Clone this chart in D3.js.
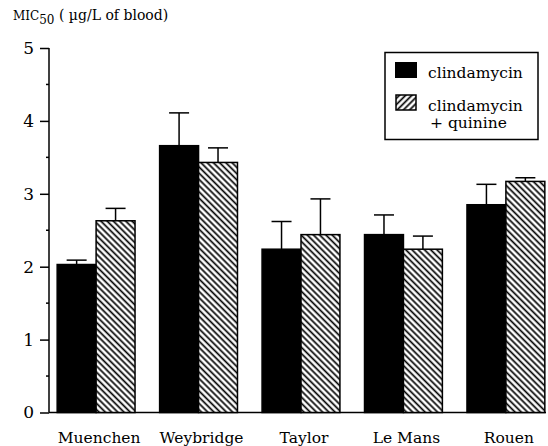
<!DOCTYPE html>
<html>
<head>
<meta charset="utf-8">
<script src="https://cdn.jsdelivr.net/npm/d3@7"></script>
<style>
  body { margin: 0; background: #fff; }
  svg { display: block; }
  text { font-family: "DejaVu Serif", serif; fill: #000; }
</style>
</head>
<body>
<div id="anchor-point"></div>
<script>
// MIC50 bar chart, clindamycin alone vs with quinine

const categories = ["Muenchen", "Weybridge", "Taylor", "Le Mans", "Rouen"];
const series = ["clindamycin", "clindamycin + quinine"];
const clinda = [2.03, 3.66, 2.24, 2.44, 2.85];
const clinda_err = [2.09, 4.11, 2.62, 2.71, 3.13];   // top of error bar
const quinine = [2.63, 3.43, 2.44, 2.24, 3.17];
const quinine_err = [2.80, 3.63, 2.93, 2.42, 3.22];
const y_ticks = [0, 1, 2, 3, 4, 5];

const width = 548, height = 446;

const svg = d3.select("#anchor-point")
  .append("svg")
  .attr("width", width)
  .attr("height", height);

// hatch patterns (bars go "\\\\", legend swatch goes "////")
const defs = svg.append("defs");
function hatch(id, angle) {
  defs.append("pattern")
    .attr("id", id)
    .attr("patternUnits", "userSpaceOnUse")
    .attr("width", 8)
    .attr("height", 4.4)
    .attr("patternTransform", `rotate(${angle})`)
    .call(p => {
      p.append("rect").attr("width", 8).attr("height", 4.4).attr("fill", "#fff");
      p.append("line")
        .attr("x1", 0).attr("x2", 8)
        .attr("y1", 2.2).attr("y2", 2.2)
        .attr("stroke", "#000")
        .attr("stroke-width", 1.7);
    });
}
hatch("hatch-bar", 45);
hatch("hatch-legend", -45);

const axis_x = 49;

const y = d3.scaleLinear().domain([0, 5]).range([412.5, 48]);

const x = d3.scaleBand()
  .domain(categories)
  .range([50, 552])
  .paddingInner(0.24)
  .paddingOuter(0.07);

const x_inner = d3.scaleBand()
  .domain(series)
  .range([0, x.bandwidth()]);

// baseline
svg.append("line")
  .attr("x1", axis_x).attr("x2", 546)
  .attr("y1", y(0)).attr("y2", y(0))
  .attr("stroke", "#000")
  .attr("stroke-width", 1.5);

// y axis
const y_axis = svg.append("g")
  .attr("transform", `translate(${axis_x},0)`)
  .call(d3.axisLeft(y).tickValues(y_ticks).tickSize(9).tickPadding(6).tickFormat(d3.format("d")));
y_axis.select(".domain").attr("stroke-width", 1.5).attr("d", `M0,${y(5)}V${y(0)}`);
y_axis.selectAll(".tick line").attr("stroke-width", 1.5);
y_axis.selectAll(".tick text")
  .style("font-family", "'DejaVu Serif', serif")
  .style("font-size", "17px");

// minor ticks at the halves
svg.append("g")
  .selectAll("line")
  .data(d3.range(0.5, 5, 1))
  .join("line")
  .attr("x1", axis_x - 3).attr("x2", axis_x)
  .attr("y1", d => y(d)).attr("y2", d => y(d))
  .attr("stroke", "#000")
  .attr("stroke-width", 1.5);

// bars
const rows = categories.map((c, i) => ({
  cat: c,
  bars: [
    { s: series[0], v: clinda[i], e: clinda_err[i] },
    { s: series[1], v: quinine[i], e: quinine_err[i] }
  ]
}));

const groups = svg.selectAll(".grp")
  .data(rows)
  .join("g")
  .attr("class", "grp")
  .attr("transform", d => `translate(${x(d.cat)},0)`);

const bar = groups.selectAll(".bar")
  .data(d => d.bars)
  .join("g")
  .attr("class", "bar");

// error bars first so the bar covers the bottom end
bar.append("line")
  .attr("x1", d => x_inner(d.s) + x_inner.bandwidth() / 2)
  .attr("x2", d => x_inner(d.s) + x_inner.bandwidth() / 2)
  .attr("y1", d => y(d.v))
  .attr("y2", d => y(d.e))
  .attr("stroke", "#000")
  .attr("stroke-width", 1.5);

bar.append("line")
  .attr("x1", d => x_inner(d.s) + x_inner.bandwidth() / 2 - 10)
  .attr("x2", d => x_inner(d.s) + x_inner.bandwidth() / 2 + 10)
  .attr("y1", d => y(d.e))
  .attr("y2", d => y(d.e))
  .attr("stroke", "#000")
  .attr("stroke-width", 1.5);

bar.append("rect")
  .attr("x", d => x_inner(d.s))
  .attr("y", d => y(d.v))
  .attr("width", x_inner.bandwidth())
  .attr("height", d => y(0) - y(d.v))
  .attr("fill", (d, i) => i === 0 ? "#000" : "url(#hatch-bar)")
  .attr("stroke", "#000")
  .attr("stroke-width", 1.5);

// category labels
svg.append("g")
  .selectAll("text")
  .data(categories)
  .join("text")
  .attr("x", d => x(d) + x.bandwidth() / 2 + 3)
  .attr("y", 443)
  .attr("text-anchor", "middle")
  .style("font-size", "15.5px")
  .text(d => d);

// title
const title = svg.append("text")
  .attr("x", 13)
  .attr("y", 20)
  .style("font-size", "14px");
title.append("tspan").style("font-size", "12px").text("MIC");
title.append("tspan").attr("dy", 4).style("font-size", "12px").text("50");
title.append("tspan").attr("dy", -4).text(" ( µg/L of blood)");

// legend
const legend = svg.append("g");
legend.append("rect")
  .attr("x", 385).attr("y", 52.5)
  .attr("width", 153).attr("height", 87)
  .attr("fill", "#fff")
  .attr("stroke", "#000")
  .attr("stroke-width", 1.5);
legend.append("rect")
  .attr("x", 395).attr("y", 62)
  .attr("width", 22).attr("height", 16)
  .attr("fill", "#000");
legend.append("rect")
  .attr("x", 396).attr("y", 95)
  .attr("width", 20).attr("height", 15)
  .attr("fill", "url(#hatch-legend)")
  .attr("stroke", "#000")
  .attr("stroke-width", 1.5);
legend.append("text").attr("x", 428).attr("y", 78).style("font-size", "15.5px").text("clindamycin");
legend.append("text").attr("x", 428).attr("y", 111).style("font-size", "15.5px").text("clindamycin");
legend.append("text").attr("x", 430).attr("y", 128).style("font-size", "15.5px").text("+ quinine");
</script>
</body>
</html>
